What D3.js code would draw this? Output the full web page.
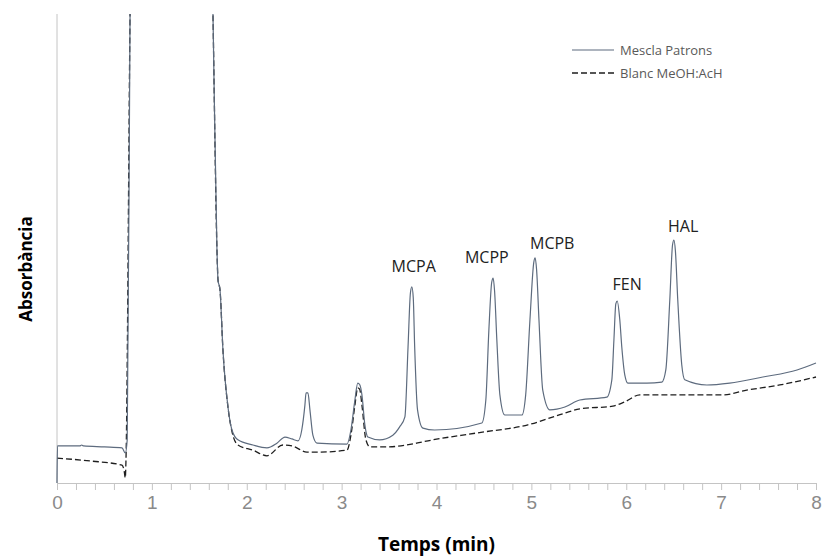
<!DOCTYPE html>
<html>
<head>
<meta charset="utf-8">
<script src="https://d3js.org/d3.v7.min.js"></script>
<style>
body { margin: 0; background: #fff; }
svg { font-family: "Open Sans", sans-serif; }
.axis path, .axis line { stroke: #c4c4c4; stroke-width: 1; }
.ticklbl text { fill: #8a8a8a; font-size: 19px; }
.peak { fill: #222; font-size: 16px; }
.leg { fill: #595959; font-size: 13px; }
.title { fill: #000; font-weight: bold; }
</style>
</head>
<body>
<script>

// temps (min), absorbància (unitats arbitràries)
var mescla = [
  [0, 0], [0.005, 7.9], [0.24, 7.9], [0.26, 8.1], [0.28, 7.9], [0.5, 7.7], [0.685, 7.5],
  [0.72, 6.4], [0.74, 9.2], [0.77, 100], [0.8, 150], [1.6, 150], [1.644, 100],
  [1.686, 49.7], [1.697, 43.3], [1.718, 41.2], [1.749, 28.4], [1.802, 16.2], [1.844, 11.3],
  [1.907, 9.2], [2.065, 8.1], [2.213, 7.5], [2.318, 8.5], [2.403, 9.8], [2.476, 9.4],
  [2.54, 9.0], [2.58, 11.3], [2.613, 16.6], [2.625, 19.2], [2.645, 19.2], [2.666, 15.6], [2.697, 10.2],
  [2.74, 8.5], [3.056, 8.3], [3.098, 11.3], [3.14, 17.7], [3.17, 21.3], [3.19, 21.0], [3.214, 18.8],
  [3.245, 12.4], [3.277, 9.8], [3.40, 9.2], [3.54, 10.2], [3.61, 11.9], [3.667, 14.1],
  [3.70, 29.0], [3.725, 40.5], [3.74, 41.8], [3.755, 39.5], [3.77, 29.0], [3.80, 15.6], [3.857, 11.7], [3.98, 11.3],
  [4.478, 12.8], [4.52, 17.7], [4.552, 32.6], [4.582, 42.8], [4.597, 43.7], [4.612, 41.0], [4.636, 30.5], [4.668, 18.8],
  [4.72, 14.5], [4.90, 14.5], [4.94, 18.8], [4.985, 34.8], [5.025, 47.0], [5.04, 48.0], [5.055, 45.5], [5.08, 34.8],
  [5.12, 19.8], [5.195, 15.6], [5.353, 16.2], [5.51, 17.7], [5.795, 18.3], [5.848, 22.0],
  [5.87, 30.5], [5.89, 38.2], [5.905, 38.8], [5.932, 34.8], [5.953, 29.0], [5.985, 23.0], [6.017, 21.3],
  [6.217, 21.3], [6.375, 21.5], [6.417, 24.1], [6.459, 39.0], [6.488, 50.8], [6.503, 51.8], [6.518, 49.5], [6.543, 39.0],
  [6.585, 25.2], [6.617, 22.0], [6.85, 20.9], [7.09, 21.3], [7.44, 22.6], [7.80, 24.1],
  [8.0, 25.6]
];

var blanc = [
  [0, 5.3], [0.35, 4.7], [0.685, 3.8], [0.706, 2.8], [0.72, 1.1], [0.727, 4.9],
  [0.77, 100], [0.8, 150], [1.6, 150], [1.644, 100],
  [1.686, 49.7], [1.697, 43.3], [1.718, 41.2], [1.749, 28.4], [1.802, 16.2], [1.844, 11.0],
  [1.907, 8.1], [2.065, 7.0], [2.213, 5.8], [2.38, 8.1], [2.476, 7.9], [2.634, 6.6],
  [2.77, 6.6], [3.056, 7.0], [3.098, 10.2], [3.14, 16.6], [3.17, 20.3], [3.19, 20.0], [3.214, 16.6],
  [3.256, 9.2], [3.298, 7.7], [3.477, 7.7], [3.79, 8.5], [3.91, 9.0], [4.436, 10.7],
  [4.963, 12.4], [5.353, 14.9], [5.51, 15.8], [5.859, 16.4], [5.985, 17.3], [6.143, 18.8],
  [6.533, 18.8], [7.018, 18.8], [7.27, 19.8], [7.618, 20.9], [8.0, 22.6]
];

var picNoms = ["MCPA", "MCPP", "MCPB", "FEN", "HAL"];
var picTemps = [3.76, 4.53, 5.22, 6.01, 6.6];
var picAlcada = [45, 46.9, 49.9, 41.2, 53.5];

var xTicks = [0, 1, 2, 3, 4, 5, 6, 7, 8];
var xMinor = d3.range(0, 41).map(function(i) { return i / 5; });

var width = 823, height = 558;
var margin = {left: 57, right: 7, top: 14, bottom: 75};

var svg = d3.select("body").append("svg")
  .attr("width", width)
  .attr("height", height);

var x = d3.scaleLinear().domain([0, 8]).range([margin.left, width - margin.right]);
var y = d3.scaleLinear().domain([0, 100]).range([height - margin.bottom, margin.top]);

svg.append("defs").append("clipPath").attr("id", "clip")
  .append("rect")
  .attr("x", margin.left - 1).attr("y", margin.top)
  .attr("width", width - margin.left - margin.right + 2)
  .attr("height", height - margin.top - margin.bottom);

// eix Y (només la línia)
svg.append("line")
  .attr("x1", x(0)).attr("x2", x(0))
  .attr("y1", y(100)).attr("y2", y(0))
  .attr("stroke", "#c4c4c4");

// eix X
svg.append("g")
  .attr("class", "axis")
  .attr("transform", "translate(0," + y(0) + ")")
  .call(d3.axisBottom(x).tickValues(xMinor).tickSize(7).tickSizeOuter(0).tickFormat(""));

svg.append("g")
  .attr("class", "ticklbl")
  .attr("transform", "translate(0," + y(0) + ")")
  .call(d3.axisBottom(x).tickValues(xTicks).tickSize(0).tickPadding(13).tickFormat(d3.format("d")))
  .call(function(g) { g.select(".domain").remove(); });

var line = d3.line()
  .curve(d3.curveMonotoneX)
  .x(function(d) { return x(d[0]); })
  .y(function(d) { return y(d[1]); });

var plot = svg.append("g").attr("clip-path", "url(#clip)");

plot.append("path")
  .datum(blanc)
  .attr("fill", "none")
  .attr("stroke", "#1e1e1e")
  .attr("stroke-width", 1.3)
  .attr("stroke-dasharray", "6,3")
  .attr("d", line);

plot.append("path")
  .datum(mescla)
  .attr("fill", "none")
  .attr("stroke", "#5d6b7e")
  .attr("stroke-width", 1.2)
  .attr("d", line);

// etiquetes dels pics
svg.selectAll("text.peak")
  .data(picNoms)
  .enter().append("text")
  .attr("class", "peak")
  .attr("text-anchor", "middle")
  .attr("x", function(d, i) { return x(picTemps[i]); })
  .attr("y", function(d, i) { return y(picAlcada[i]); })
  .text(function(d) { return d; });

// llegenda
var leg = svg.append("g").attr("transform", "translate(572,50)");
leg.append("line").attr("x1", 0).attr("x2", 42).attr("y1", 0).attr("y2", 0)
  .attr("stroke", "#5d6b7e").attr("stroke-width", 1.2);
leg.append("text").attr("class", "leg").attr("x", 48).attr("y", 4.5).text("Mescla Patrons");
leg.append("line").attr("x1", 0).attr("x2", 42).attr("y1", 23).attr("y2", 23)
  .attr("stroke", "#1e1e1e").attr("stroke-width", 1.3).attr("stroke-dasharray", "6,3");
leg.append("text").attr("class", "leg").attr("x", 48).attr("y", 27.5).text("Blanc MeOH:AcH");

// títols dels eixos
svg.append("text")
  .attr("class", "title")
  .attr("text-anchor", "middle")
  .style("font-size", "19px")
  .attr("x", x(4))
  .attr("y", 551)
  .text("Temps (min)");

svg.append("text")
  .attr("class", "title")
  .attr("text-anchor", "middle")
  .style("font-size", "17px")
  .attr("transform", "translate(32,269) rotate(-90)")
  .text("Absorbància");

</script>
</body>
</html>
